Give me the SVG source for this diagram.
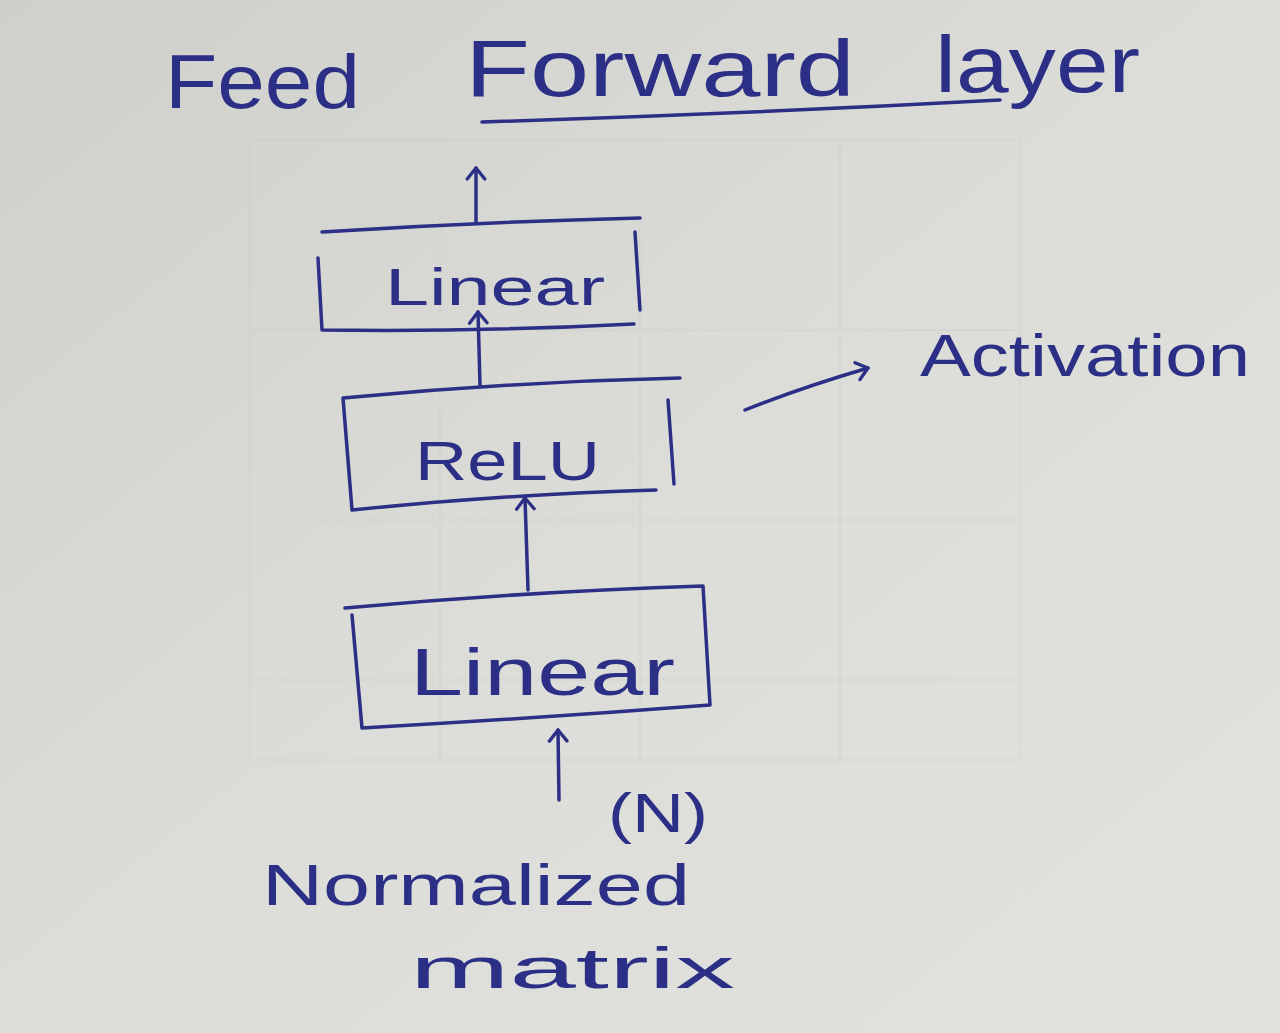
<svg xmlns="http://www.w3.org/2000/svg" width="1280" height="1033" viewBox="0 0 1280 1033">
  <defs>
    <linearGradient id="paper" x1="0" y1="0" x2="1" y2="1">
      <stop offset="0" stop-color="#cfd0cc"/>
      <stop offset="0.5" stop-color="#dcdcd8"/>
      <stop offset="1" stop-color="#e2e2de"/>
    </linearGradient>
    <!-- open arrowhead, drawn along +x so orient="auto" follows the line -->
    <marker id="head" viewBox="0 0 20 20" refX="15" refY="10" markerWidth="22" markerHeight="22" markerUnits="userSpaceOnUse" orient="auto">
      <path d="M5,2 L15,10 L5,18" fill="none" stroke="#2b2f86" stroke-width="3" stroke-linecap="round" stroke-linejoin="round"/>
    </marker>
  </defs>
  <style>
    .ink { fill: none; stroke: #2b2f86; stroke-width: 3.5; stroke-linecap: round; stroke-linejoin: round; }
    .label { fill: #2b2f86; font-family: "Liberation Sans", "DejaVu Sans", sans-serif; }
    .grid { stroke: #c6c7c3; stroke-width: 1.5; fill: none; }
  </style>

  <!-- paper -->
  <rect x="0" y="0" width="1280" height="1033" fill="url(#paper)"/>
  <g class="grid" opacity="0.3">
    <path d="M250 140 V760 M440 140 V760 M640 140 V760 M840 140 V760 M1020 140 V760"/>
    <path d="M250 140 H1020 M250 330 H1020 M250 520 H1020 M250 680 H1020 M250 760 H1020"/>
  </g>

  <!-- title -->
  <g id="title">
    <text class="label" x="165" y="108" font-size="76" textLength="195" lengthAdjust="spacingAndGlyphs">Feed</text>
    <text class="label" x="465" y="96" font-size="80" textLength="390" lengthAdjust="spacingAndGlyphs">Forward</text>
    <text class="label" x="935" y="92" font-size="80" textLength="205" lengthAdjust="spacingAndGlyphs">layer</text>
    <path class="ink" d="M482 122 Q740 114 1000 100"/>
  </g>

  <!-- nodes -->
  <g id="linear-top">
    <path class="ink" d="M322 232 Q480 222 640 218 M318 258 L322 330 Q480 332 634 324 M635 232 L640 310"/>
    <text class="label" x="385" y="305" font-size="52" textLength="220" lengthAdjust="spacingAndGlyphs">Linear</text>
  </g>

  <g id="relu">
    <path class="ink" d="M343 398 Q510 382 680 378 M343 398 L352 510 Q510 494 656 490 M668 400 L674 484"/>
    <text class="label" x="415" y="480" font-size="56" textLength="185" lengthAdjust="spacingAndGlyphs">ReLU</text>
  </g>

  <g id="linear-bottom">
    <path class="ink" d="M345 608 Q520 592 703 586 L710 705 Q540 718 362 728 L352 615"/>
    <text class="label" x="410" y="695" font-size="66" textLength="265" lengthAdjust="spacingAndGlyphs">Linear</text>
  </g>

  <g id="input">
    <text class="label" x="608" y="832" font-size="56" textLength="100" lengthAdjust="spacingAndGlyphs">(N)</text>
    <text class="label" x="262" y="905" font-size="58" textLength="428" lengthAdjust="spacingAndGlyphs">Normalized</text>
    <text class="label" x="410" y="988" font-size="58" textLength="325" lengthAdjust="spacingAndGlyphs">matrix</text>
  </g>

  <g id="activation-note">
    <text class="label" x="920" y="376" font-size="60" textLength="330" lengthAdjust="spacingAndGlyphs">Activation</text>
  </g>

  <!-- connectors -->
  <g id="connectors">
    <path class="ink" d="M476 222 L476 168" marker-end="url(#head)"/>
    <path class="ink" d="M480 385 L478 312" marker-end="url(#head)"/>
    <path class="ink" d="M528 590 L525 498" marker-end="url(#head)"/>
    <path class="ink" d="M559 800 L558 730" marker-end="url(#head)"/>
    <path class="ink" d="M745 410 Q800 388 868 368" marker-end="url(#head)"/>
  </g>
</svg>
